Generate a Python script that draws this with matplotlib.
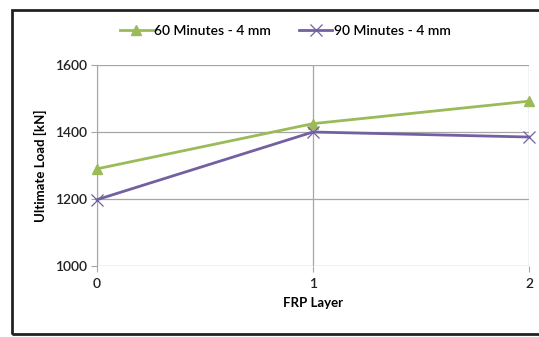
import matplotlib.pyplot as plt
from matplotlib.patches import Rectangle

plt.rcParams['font.family'] = ['Lato', 'DejaVu Sans']

layers = [0, 1, 2]
load_60 = [1290, 1425, 1492]
load_90 = [1198, 1400, 1385]
labels = ['60 Minutes - 4 mm', '90 Minutes - 4 mm']

fig = plt.figure(figsize=(5.39, 3.37), dpi=100)
ax = fig.add_axes([97/539, 1 - 266/337, 432/539, 201/337])

# outer chart frame
fig.patches.append(Rectangle((12/539, 1 - 334/337), 1.0, 324/337,
                             transform=fig.transFigure, fill=False,
                             edgecolor='#222222', linewidth=2))

ax.plot(layers, load_60, color='#9BBB59', linewidth=2, marker='^',
        markersize=6.5, label=labels[0], clip_on=False, zorder=3)
ax.plot(layers, load_90, color='#7360A0', linewidth=2, marker='x',
        markersize=8, markeredgewidth=0.9, label=labels[1], clip_on=False, zorder=3)

ax.set_xlim(0, 2)
ax.set_ylim(1000, 1600)
ax.set_xticks(layers)
ax.set_yticks([1000, 1200, 1400, 1600])
ax.grid(True, color='#a6a6a6', linewidth=0.9)
ax.set_axisbelow(True)
for s in ['top', 'right', 'bottom']:
    ax.spines[s].set_visible(False)
ax.spines['left'].set_color('#a6a6a6')
ax.tick_params(axis='both', colors='#a6a6a6', labelcolor='#222222',
               labelsize=10, length=4, direction='out')
for t in ax.get_xticklabels() + ax.get_yticklabels():
    t.set_fontweight('semibold')
ax.tick_params(axis='y', pad=3)
ax.tick_params(axis='x', pad=5)

ax.set_xlabel('FRP Layer', fontsize=9.5, fontweight='bold', labelpad=5)
ax.set_ylabel('Ultimate Load [kN]', fontsize=9.5, fontweight='bold', labelpad=6)

fig.legend(loc='center', bbox_to_anchor=(285/539, 1 - 31/337), ncol=2,
           frameon=False, handlelength=2.4, columnspacing=2.0,
           handletextpad=0.1, prop={'size': 10, 'weight': 'semibold'})

fig.savefig('out.png', dpi=100)
